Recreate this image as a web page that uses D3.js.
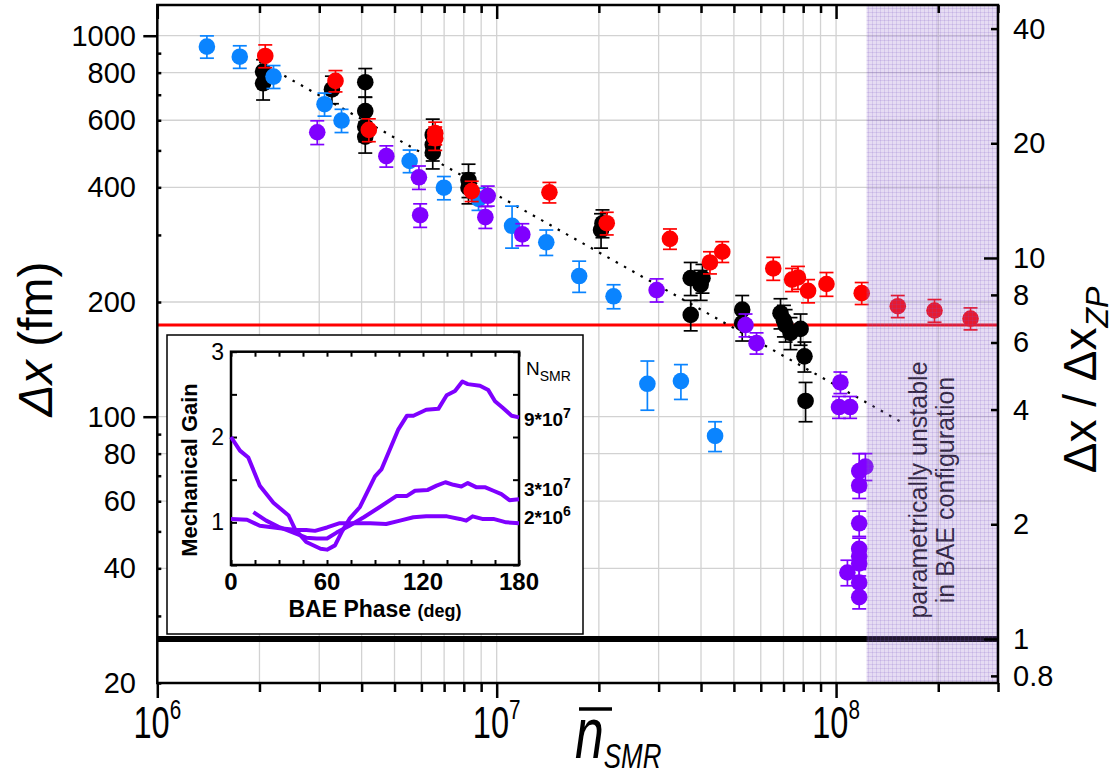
<!DOCTYPE html>
<html>
<head>
<meta charset="utf-8">
<script src="https://cdn.jsdelivr.net/npm/d3@7"></script>
<style>
  body { margin: 0; background: #fff; }
  svg { font-family: "Liberation Sans", Arial, sans-serif; }
</style>
</head>
<body>
<svg id="chart" width="1117" height="778"></svg>
<script>
// each point: [n_SMR, Δx (fm), error (fm)]
const bluePoints = [
  [1.40e6, 936, 63], [1.75e6, 881, 60], [2.20e6, 781, 54], [3.11e6, 661, 46],
  [3.49e6, 599, 42], [5.54e6, 469, 32], [6.99e6, 399, 28], [8.84e6, 373, 25],
  [1.11e7, 317, 40], [1.40e7, 287, 22], [1.75e7, 234, 22], [2.21e7, 207, 15],
  [2.78e7, 122, 18], [3.49e7, 124, 13], [4.40e7, 89, 8]
]
const blackPoints = [
  [2.05e6, 805, 60], [2.05e6, 750, 72], [3.27e6, 723, 60], [4.10e6, 755, 65],
  [4.10e6, 634, 55], [4.10e6, 577, 50], [4.10e6, 543, 51], [6.48e6, 549, 55],
  [6.48e6, 517, 48], [6.48e6, 493, 46], [8.26e6, 418, 42], [8.26e6, 399, 37],
  [2.03e7, 309, 32], [2.05e7, 322, 27], [3.73e7, 231, 23], [4.04e7, 231, 20],
  [3.99e7, 222, 20], [3.73e7, 185, 17], [5.29e7, 191, 17], [5.29e7, 176, 18],
  [6.86e7, 187, 17], [7.02e7, 179, 17], [7.10e7, 174, 17], [7.34e7, 166, 16],
  [7.86e7, 170, 16], [8.07e7, 144, 13], [8.13e7, 110, 13]
]
const purplePoints = [
  [2.96e6, 558, 40], [4.73e6, 483, 31], [5.90e6, 425, 30], [5.95e6, 338, 24],
  [9.41e6, 380, 23], [9.26e6, 334, 22], [1.19e7, 301, 20], [2.96e7, 215, 15],
  [5.41e7, 174, 12], [5.83e7, 156, 10], [1.03e8, 123, 8], [1.02e8, 106, 7],
  [1.10e8, 106, 7], [1.17e8, 72, 8], [1.22e8, 74, 6], [1.17e8, 66, 5],
  [1.17e8, 52.5, 4], [1.17e8, 45, 3], [1.17e8, 43, 3], [1.17e8, 41.2, 3],
  [1.08e8, 39, 3], [1.17e8, 36.7, 3], [1.17e8, 33.6, 2.3]
]
const redPoints = [
  [2.08e6, 885, 61], [3.35e6, 761, 49], [4.20e6, 566, 39], [6.59e6, 555, 38],
  [6.59e6, 538, 38], [8.44e6, 391, 24], [1.43e7, 388, 24], [2.11e7, 322, 22],
  [3.24e7, 293, 18], [4.25e7, 254, 17], [4.62e7, 271, 17], [6.53e7, 245, 17],
  [7.42e7, 229, 16], [7.72e7, 232, 16], [8.27e7, 214, 15], [9.37e7, 223, 16],
  [1.19e8, 211, 14], [1.52e8, 195, 13], [1.95e8, 190, 13], [2.49e8, 181, 12]
]

// dotted n^-1/2 guide: [n, Δx]
const fitLine = [[2.0e6, 854], [1.6e8, 95.5]]
// reference levels (fm)
const zpLevel = 26.1
const redLevel = 174
// unstable region in n_SMR
const unstableRange = [1.23e8, 3e8]

const xMajor = [1e6, 1e7, 1e8]
const yLabels = [20, 40, 60, 80, 100, 200, 400, 600, 800, 1000]
const yMajor = [100, 1000]
const rightLabels = [0.8, 1, 2, 4, 6, 8, 10, 20, 40]
const rightMajor = [1, 10]

// inset: mechanical gain vs BAE phase, [deg, gain]
const gain9e7 = [
  [0, 2.0], [5.6, 1.84], [10.8, 1.76], [18, 1.43], [26.5, 1.23], [36, 1.08],
  [40, 0.92], [47, 0.77], [56, 0.69], [60, 0.68], [65, 0.73], [69, 0.88],
  [74, 1.04], [80.6, 1.18], [90, 1.54], [94, 1.62], [104.6, 2.09], [110, 2.25],
  [114, 2.25], [122, 2.32], [129.6, 2.33], [134.8, 2.49], [140, 2.54],
  [144.6, 2.65], [148, 2.62], [155.6, 2.6], [160.8, 2.55], [165, 2.42],
  [170, 2.34], [175.4, 2.25], [180, 2.23]
]
const gain3e7 = [
  [14, 1.12], [22, 1.02], [30.6, 0.94], [39, 0.88], [47, 0.82], [53.5, 0.81],
  [60, 0.81], [66, 0.88], [74, 0.96], [83, 1.06], [93, 1.18], [103.5, 1.31],
  [110, 1.31], [115, 1.37], [123, 1.38], [128.5, 1.43], [134, 1.47],
  [139, 1.44], [144, 1.42], [148, 1.46], [153.5, 1.41], [159, 1.41],
  [164, 1.37], [169, 1.33], [174, 1.26], [180, 1.27]
]
const gain2e6 = [
  [0, 1.04], [10, 1.03], [18, 0.96], [30.6, 0.93], [41, 0.91], [47, 0.91],
  [52.5, 0.9], [60, 0.94], [68, 0.99], [76.5, 0.99], [87, 0.99], [97, 0.98],
  [105.6, 1.02], [114, 1.06], [122, 1.07], [135, 1.07], [143, 1.04],
  [147, 1.02], [151, 1.07], [157, 1.04], [164, 1.04], [172, 1.0], [180, 0.99]
]
const insetCurves = [
  { data: gain9e7, mant: '9*10', exp: '7', dy: 9 },
  { data: gain3e7, mant: '3*10', exp: '7', dy: -3 },
  { data: gain2e6, mant: '2*10', exp: '6', dy: 1 },
]

const svg = d3.select('#chart')
const pL = 157.3, pR = 998, pT = 5, pB = 683

const x = d3.scaleLog().domain([1e6, 3e8]).range([pL, pR])
const y = d3.scaleLog().domain([20, 1204]).range([pB, pT])
const yR = d3.scaleLog().domain([20 / zpLevel, 1204 / zpLevel]).range([pB, pT])

const xTicksAll = x.ticks().filter((v) => v <= 3e8 * 1.001)
const xMinor = xTicksAll.filter((v) => !xMajor.includes(v))
const yMinor = y.ticks().filter((v) => !yMajor.includes(v))

// pattern for unstable region
const defs = svg.append('defs')
const pat = defs.append('pattern').attr('id', 'hatch')
  .attr('patternUnits', 'userSpaceOnUse').attr('width', 4).attr('height', 4)
pat.append('rect').attr('width', 4).attr('height', 4).attr('fill', 'rgba(150,110,205,0.24)')
pat.append('rect').attr('width', 4).attr('height', 1).attr('fill', 'rgba(120,80,190,0.16)')
pat.append('rect').attr('width', 1).attr('height', 4).attr('fill', 'rgba(120,80,190,0.16)')

// grid
const grid = svg.append('g').attr('stroke', '#d2d2d2').attr('stroke-width', 1.3)
grid.selectAll('.gx').data(xTicksAll).join('line')
  .attr('x1', x).attr('x2', x).attr('y1', pT).attr('y2', pB)
grid.selectAll('.gy').data(yLabels).join('line')
  .attr('x1', pL).attr('x2', pR).attr('y1', y).attr('y2', y)

// unstable region label (under the overlay)
const shadeMid = (x(unstableRange[0]) + x(unstableRange[1])) / 2
const shadeText = svg.append('text')
  .attr('transform', `translate(${shadeMid},490) rotate(-90)`)
  .attr('text-anchor', 'middle').style('font-size', '25px').attr('fill', '#111')
shadeText.append('tspan').attr('x', 0).attr('y', -5).text('parametrically unstable')
shadeText.append('tspan').attr('x', 0).attr('y', 22).text('in BAE configuration')

// reference lines
svg.append('line').attr('x1', pL).attr('x2', pR)
  .attr('y1', y(redLevel)).attr('y2', y(redLevel))
  .attr('stroke', '#ff0000').attr('stroke-width', 3)
svg.append('line').attr('x1', pL).attr('x2', pR)
  .attr('y1', y(zpLevel)).attr('y2', y(zpLevel))
  .attr('stroke', '#000').attr('stroke-width', 6)

// fit guide
svg.append('path').datum(fitLine)
  .attr('d', d3.line().x((d) => x(d[0])).y((d) => y(d[1])))
  .attr('fill', 'none').attr('stroke', '#000').attr('stroke-width', 2.2)
  .attr('stroke-dasharray', '2.5,7')

// points with error bars
function drawSeries(points, color) {
  const g = svg.append('g')
  const cap = 7
  const eb = g.selectAll('.eb').data(points).join('g')
    .attr('stroke', color).attr('stroke-width', 1.7)
  eb.append('line')
    .attr('x1', (d) => x(d[0])).attr('x2', (d) => x(d[0]))
    .attr('y1', (d) => y(d[1] + d[2])).attr('y2', (d) => y(d[1] - d[2]))
  eb.append('line')
    .attr('x1', (d) => x(d[0]) - cap).attr('x2', (d) => x(d[0]) + cap)
    .attr('y1', (d) => y(d[1] + d[2])).attr('y2', (d) => y(d[1] + d[2]))
  eb.append('line')
    .attr('x1', (d) => x(d[0]) - cap).attr('x2', (d) => x(d[0]) + cap)
    .attr('y1', (d) => y(d[1] - d[2])).attr('y2', (d) => y(d[1] - d[2]))
  g.selectAll('circle').data(points).join('circle')
    .attr('cx', (d) => x(d[0])).attr('cy', (d) => y(d[1]))
    .attr('r', 8.3).attr('fill', color)
}
drawSeries(blackPoints, '#000000')
drawSeries(bluePoints, '#0a84ff')
drawSeries(purplePoints, '#8000ff')
drawSeries(redPoints, '#ff0000')

// ---- inset ----
const inset = svg.append('g')
inset.append('rect').attr('x', 167).attr('y', 335).attr('width', 416).attr('height', 299)
  .attr('fill', '#fff').attr('stroke', '#000').attr('stroke-width', 1.5)

const ix = d3.scaleLinear().domain([0, 180]).range([231, 519])
const iy = d3.scaleLinear().domain([0.5, 3]).range([565, 351.7])

inset.append('g').attr('transform', 'translate(0,565)')
  .call(d3.axisBottom(ix).tickValues(d3.range(0, 181, 15)).tickSize(-5).tickFormat(''))
inset.append('g').attr('transform', 'translate(0,351.7)')
  .call(d3.axisTop(ix).tickValues(d3.range(0, 181, 15)).tickSize(-5).tickFormat(''))
inset.append('g').attr('transform', 'translate(231,0)')
  .call(d3.axisLeft(iy).tickValues(d3.range(0.5, 3.01, 0.5)).tickSize(-6).tickFormat(''))
inset.append('g').attr('transform', 'translate(519,0)')
  .call(d3.axisRight(iy).tickValues(d3.range(0.5, 3.01, 0.5)).tickSize(-6).tickFormat(''))
inset.selectAll('.domain').remove()
inset.selectAll('.tick line').attr('stroke-width', 2)
inset.append('rect').attr('x', 231).attr('y', 351.7).attr('width', 288).attr('height', 213.3)
  .attr('fill', 'none').attr('stroke', '#000').attr('stroke-width', 2.5)

const gainLine = d3.line().x((d) => ix(d[0])).y((d) => iy(d[1]))
inset.selectAll('.curve').data(insetCurves).join('path')
  .attr('d', (c) => gainLine(c.data))
  .attr('fill', 'none').attr('stroke', '#7f00ff').attr('stroke-width', 4)
  .attr('stroke-linejoin', 'round')

inset.selectAll('.ylab').data([1, 2, 3]).join('text')
  .attr('x', 224).attr('y', (d) => iy(d) + 8).attr('text-anchor', 'end')
  .style('font-size', '23px').text((d) => d)
inset.selectAll('.xlab').data([0, 60, 120, 180]).join('text')
  .attr('x', (d) => ix(d)).attr('y', 590).attr('text-anchor', 'middle')
  .style('font-size', '24px').style('font-weight', 'bold').text((d) => d)

const bae = inset.append('text').attr('x', 375).attr('y', 617).attr('text-anchor', 'middle')
  .style('font-weight', 'bold')
bae.append('tspan').style('font-size', '23px').text('BAE Phase ')
bae.append('tspan').style('font-size', '18px').text('(deg)')

inset.append('text').attr('transform', 'translate(197,470) rotate(-90)')
  .attr('text-anchor', 'middle').style('font-size', '22px').style('font-weight', 'bold')
  .text('Mechanical Gain')

const nlab = inset.append('text').attr('x', 526).attr('y', 375).style('font-size', '19px')
nlab.append('tspan').text('N')
nlab.append('tspan').attr('dy', 6).style('font-size', '14px').text('SMR')

insetCurves.forEach((c) => {
  const last = c.data[c.data.length - 1]
  const t = inset.append('text').attr('x', ix(last[0]) + 5).attr('y', iy(last[1]) + c.dy)
    .style('font-size', '19px').style('font-weight', 'bold')
  t.append('tspan').text(c.mant)
  t.append('tspan').attr('dy', -8).style('font-size', '14px').text(c.exp)
})

// unstable region overlay
svg.append('rect')
  .attr('x', x(unstableRange[0])).attr('y', pT)
  .attr('width', x(unstableRange[1]) - x(unstableRange[0])).attr('height', pB - pT)
  .attr('fill', 'url(#hatch)')

// ---- axes ----
const axes = svg.append('g')
axes.append('g').attr('transform', `translate(0,${pB})`)
  .call(d3.axisBottom(x).tickValues(xMinor).tickSize(9).tickFormat(''))
axes.append('g').attr('transform', `translate(0,${pB})`)
  .call(d3.axisBottom(x).tickValues(xMajor).tickSize(15).tickFormat(''))
axes.append('g').attr('transform', `translate(0,${pT})`)
  .call(d3.axisTop(x).tickValues(xMinor).tickSize(-8).tickFormat(''))
axes.append('g').attr('transform', `translate(0,${pT})`)
  .call(d3.axisTop(x).tickValues(xMajor).tickSize(-14).tickFormat(''))
axes.append('g').attr('transform', `translate(${pL},0)`)
  .call(d3.axisLeft(y).tickValues(yMajor).tickSize(14).tickFormat(''))
axes.append('g').attr('transform', `translate(${pL},0)`)
  .call(d3.axisLeft(y).tickValues(yMinor).tickSize(-4).tickFormat(''))
axes.append('g').attr('transform', `translate(${pR},0)`)
  .call(d3.axisRight(yR).tickValues(rightLabels.filter((v) => !rightMajor.includes(v)))
    .tickSize(-7).tickFormat(''))
axes.append('g').attr('transform', `translate(${pR},0)`)
  .call(d3.axisRight(yR).tickValues(rightMajor).tickSize(-14).tickFormat(''))
axes.selectAll('.domain').remove()
axes.selectAll('.tick line').attr('stroke', '#000').attr('stroke-width', 2.5)

svg.append('rect').attr('x', pL).attr('y', pT)
  .attr('width', pR - pL).attr('height', pB - pT)
  .attr('fill', 'none').attr('stroke', '#000').attr('stroke-width', 2.5)

// tick labels
svg.selectAll('.ly').data(yLabels).join('text')
  .attr('x', 136).attr('y', (d) => y(d) + 10).attr('text-anchor', 'end')
  .style('font-size', '29px').text((d) => d)
svg.selectAll('.ry').data(rightLabels).join('text')
  .attr('x', 1013).attr('y', (d) => yR(d) + 10)
  .style('font-size', '29px').text((d) => d)

xMajor.forEach((v) => {
  const t = svg.append('text')
    .attr('transform', `translate(${x(v)},738) scale(0.74,1)`)
    .attr('text-anchor', 'middle').style('font-size', '44px')
  t.append('tspan').text('10')
  t.append('tspan').attr('dy', -19).style('font-size', '28px')
    .text(Math.round(Math.log10(v)))
})

// axis titles
const xt = svg.append('text').attr('transform', 'translate(575,758) scale(0.72,1)')
  .style('font-style', 'italic')
xt.append('tspan').style('font-size', '72px').text('n')
xt.append('tspan').attr('dy', 10).style('font-size', '36px').text('SMR')
svg.append('line').attr('x1', 579).attr('x2', 612).attr('y1', 709).attr('y2', 709)
  .attr('stroke', '#000').attr('stroke-width', 3.5)

const yt = svg.append('text').attr('transform', 'translate(52,339) rotate(-90)')
  .attr('text-anchor', 'middle').style('font-size', '48px')
yt.append('tspan').style('font-style', 'italic').text('Δx')
yt.append('tspan').text(' (fm)')

const rt = svg.append('text').attr('transform', 'translate(1096,380) rotate(-90)')
  .attr('text-anchor', 'middle').style('font-size', '46px')
rt.append('tspan').text('Δx / Δx')
rt.append('tspan').attr('dy', 12).style('font-size', '32px').style('font-style', 'italic').text('ZP')
</script>
</body>
</html>
